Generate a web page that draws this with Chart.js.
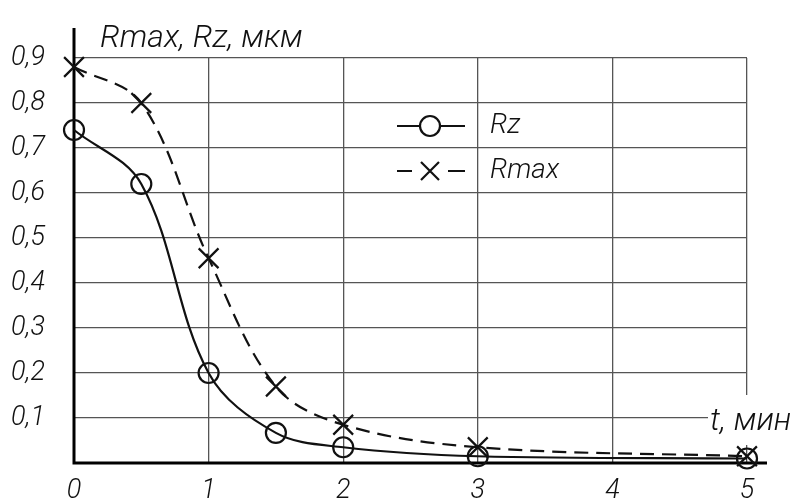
<!DOCTYPE html>
<html>
<head>
<meta charset="utf-8">
<script src="https://cdn.jsdelivr.net/npm/chart.js@4/dist/chart.umd.min.js"></script>
<style>
  html, body { margin: 0; padding: 0; background: #fff; }
  #wrap { width: 800px; height: 501px; }
</style>
</head>
<body>
<div id="wrap"><canvas id="chart"></canvas></div>
<script>
const tValues = [0, 0.5, 1, 1.5, 2, 3, 5];
const rzValues = [0.74, 0.62, 0.2, 0.067, 0.035, 0.015, 0.01];
const rmaxValues = [0.88, 0.8, 0.455, 0.17, 0.085, 0.035, 0.015];
const seriesNames = ["Rz", "Rmax"];
const yTitle = "Rmax, Rz, мкм";
const xTitle = "t, мин";

const FONT = "Roboto, 'Liberation Sans', sans-serif";

function toPoints(values) {
  return tValues.map((t, i) => ({ x: t, y: values[i] }));
}

// axes, titles and the hand-drawn legend
const drawingExtras = {
  id: "drawingExtras",
  beforeDatasetsDraw(chart) {
    const ctx = chart.ctx;
    const x0 = chart.scales.x.getPixelForValue(0);
    const y0 = chart.scales.y.getPixelForValue(0);
    ctx.save();
    ctx.strokeStyle = "#000";
    ctx.lineWidth = 3;
    ctx.beginPath();
    ctx.moveTo(x0, 28);
    ctx.lineTo(x0, y0);
    ctx.lineTo(767, y0);
    ctx.stroke();
    ctx.restore();
  },
  afterDraw(chart) {
    const ctx = chart.ctx;
    ctx.save();
    ctx.fillStyle = "#111";
    ctx.textBaseline = "alphabetic";
    ctx.textAlign = "left";
    ctx.font = "italic 300 32px " + FONT;
    ctx.fillText(yTitle, 100, 47);

    // t, мин with white backing over the grid
    ctx.fillStyle = "#fff";
    ctx.fillRect(708, 395, 92, 50);
    ctx.fillStyle = "#111";
    ctx.font = "italic 300 32px " + FONT;
    ctx.fillText(xTitle, 710, 430);

    // legend
    const rows = [126, 171];
    ctx.strokeStyle = "#111";
    ctx.lineWidth = 2.2;
    // Rz
    ctx.beginPath();
    ctx.moveTo(397, rows[0]);
    ctx.lineTo(420, rows[0]);
    ctx.moveTo(440, rows[0]);
    ctx.lineTo(465, rows[0]);
    ctx.stroke();
    ctx.beginPath();
    ctx.arc(430, rows[0], 10, 0, Math.PI * 2);
    ctx.stroke();
    // Rmax
    ctx.beginPath();
    ctx.moveTo(397, rows[1]);
    ctx.lineTo(412, rows[1]);
    ctx.moveTo(448, rows[1]);
    ctx.lineTo(465, rows[1]);
    ctx.moveTo(421, rows[1] - 9);
    ctx.lineTo(439, rows[1] + 9);
    ctx.moveTo(421, rows[1] + 9);
    ctx.lineTo(439, rows[1] - 9);
    ctx.stroke();

    ctx.font = "italic 300 28px " + FONT;
    ctx.textBaseline = "middle";
    ctx.fillText(seriesNames[0], 490, rows[0]);
    ctx.fillText(seriesNames[1], 490, rows[1]);
    ctx.restore();
  },
};

const ctx = document.getElementById("chart").getContext("2d");
const chart = new Chart(ctx, {
  type: "scatter",
  data: {
    datasets: [
      {
        label: seriesNames[0],
        data: toPoints(rzValues),
        showLine: true,
        borderColor: "#111",
        borderWidth: 2.2,
        backgroundColor: "transparent",
        pointStyle: "circle",
        pointRadius: 10,
        pointBorderWidth: 2.2,
        pointBorderColor: "#111",
        pointBackgroundColor: "transparent",
        tension: 0.35,
        clip: false,
      },
      {
        label: seriesNames[1],
        data: toPoints(rmaxValues),
        showLine: true,
        borderColor: "#111",
        borderWidth: 2.2,
        borderDash: [14, 8],
        backgroundColor: "transparent",
        pointStyle: "crossRot",
        pointRadius: 14,
        pointBorderWidth: 2.2,
        pointBorderColor: "#111",
        tension: 0.35,
        clip: false,
      },
    ],
  },
  options: {
    responsive: true,
    maintainAspectRatio: false,
    animation: false,
    events: [],
    layout: {
      padding: { top: 58, right: 53, left: 0, bottom: 0 },
    },
    plugins: {
      legend: { display: false },
      tooltip: { enabled: false },
    },
    scales: {
      x: {
        type: "linear",
        min: 0,
        max: 5,
        afterFit: (scale) => {
          scale.height = 38;
        },
        ticks: {
          stepSize: 1,
          padding: 12,
          color: "#111",
          font: { family: FONT, size: 27, style: "italic", weight: 300 },
        },
        grid: { color: "#555", lineWidth: 1.3, drawTicks: false },
        border: { display: false },
      },
      y: {
        type: "linear",
        min: 0,
        max: 0.9,
        afterFit: (scale) => {
          scale.width = 74;
          scale.paddingTop = 0;
          scale.paddingBottom = 0;
        },
        ticks: {
          stepSize: 0.1,
          padding: 29,
          color: "#111",
          font: { family: FONT, size: 27, style: "italic", weight: 300 },
          callback: (value) => (value === 0 ? "" : value.toFixed(1).replace(".", ",")),
        },
        grid: { color: "#555", lineWidth: 1.3, drawTicks: false },
        border: { display: false },
      },
    },
  },
  plugins: [drawingExtras],
});
</script>
</body>
</html>
